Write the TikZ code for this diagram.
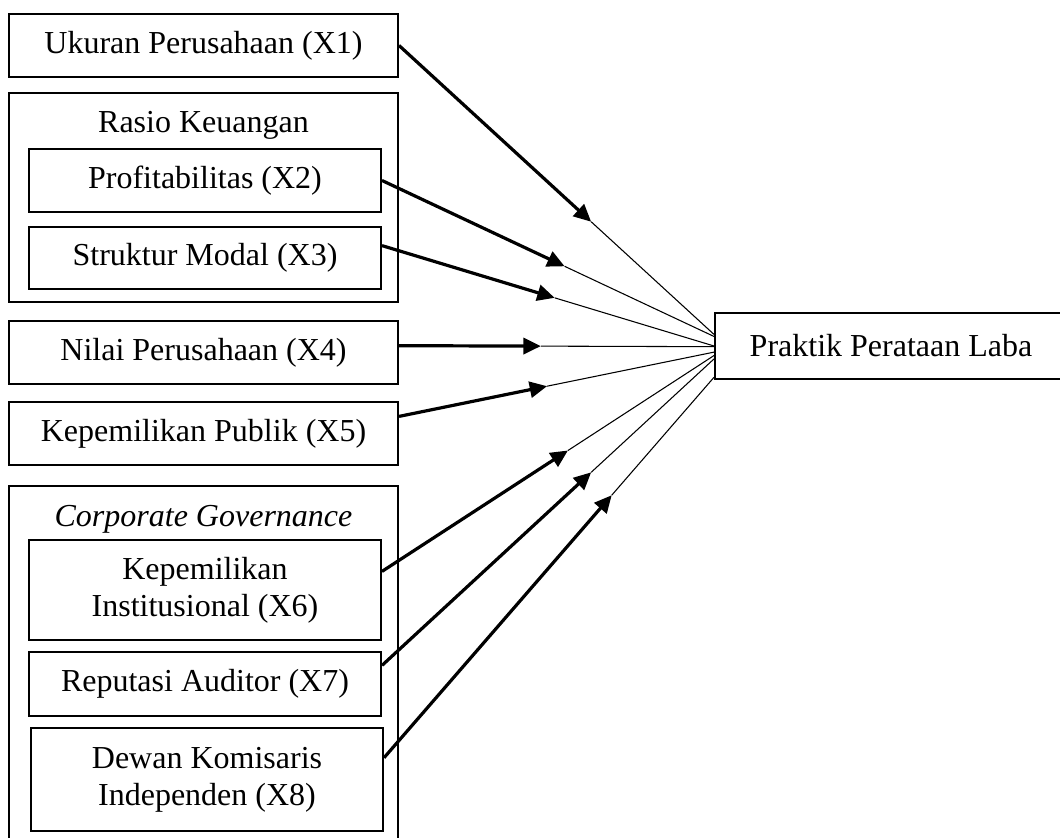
\documentclass[tikz,border=0pt]{standalone}
\usepackage{fontspec}
\setmainfont{Liberation Serif}
\usetikzlibrary{arrows.meta,calc}

\begin{document}
\begin{tikzpicture}[x=0.375pt,y=-0.375pt,
    varbox/.style={draw,line width=0.75pt,minimum width=132pt,minimum height=23.6pt,
        align=center,inner sep=2pt,font=\fontsize{12}{14}\selectfont},
    widebox/.style={varbox,minimum width=145.9pt},
    groupbox/.style={draw,line width=0.45pt,minimum width=145.9pt},
    grouptitle/.style={anchor=base,inner sep=0pt,font=\fontsize{12}{14}\selectfont},
    pull/.style={line width=1.2pt,-{Triangle[length=6.5pt,width=6pt]}},
    feed/.style={line width=0.4pt}]

    \useasboundingbox (0,0) rectangle (1060,837);
    \clip (0,0) rectangle (1060,837);

    % groups
    \node[groupbox,minimum height=78.4pt] (rasio) at (203.5,197.5) {};
    \node[grouptitle] (rasiotitle) at (203.5,133) {Rasio Keuangan};
    \node[groupbox,minimum height=136.5pt] (cg) at (203.5,668) {};
    \node[grouptitle] (cgtitle) at (203.5,526) {\itshape Corporate Governance};

    % variables
    \node[widebox] (x1) at (203.5,45.5) {Ukuran Perusahaan (X1)};
    \node[varbox] (x2) at (205,180.5) {Profitabilitas (X2)};
    \node[varbox,minimum height=23.3pt] (x3) at (205,258) {Struktur Modal (X3)};
    \node[widebox] (x4) at (203.5,352.5) {Nilai Perusahaan (X4)};
    \node[widebox] (x5) at (203.5,433.5) {Kepemilikan Publik (X5)};
    \node[varbox,minimum height=37.5pt] (x6) at (205,590) {Kepemilikan\\Institusional (X6)};
    \node[varbox,minimum height=24pt] (x7) at (205,684) {Reputasi Auditor (X7)};
    \node[varbox,minimum height=38.6pt] (x8) at (207,779.5) {Dewan Komisaris\\Independen (X8)};

    \node[varbox,minimum height=24.75pt] (laba) at (891,346) {Praktik Perataan Laba};

    % ends on the target
    \coordinate (t1) at ($(laba.north west)!0.33!(laba.south west)$);
    \coordinate (t2) at ($(laba.north west)!0.36!(laba.south west)$);
    \coordinate (t3) at ($(laba.north west)!0.50!(laba.south west)$);
    \coordinate (t4) at ($(laba.north west)!0.51!(laba.south west)$);
    \coordinate (t5) at ($(laba.north west)!0.59!(laba.south west)$);
    \coordinate (t6) at ($(laba.north west)!0.64!(laba.south west)$);
    \coordinate (t7) at ($(laba.north west)!0.69!(laba.south west)$);
    \coordinate (t8) at ($(laba.north west)!0.96!(laba.south west)$);

    % arrow heads
    \coordinate (m1) at ($(x1.east)!0.61!(t1)$);
    \coordinate (m2) at ($(x2.east)!0.55!(t2)$);
    \coordinate (m3) at ($(x3.4)!0.52!(t3)$);
    \coordinate (m4) at ($(x4.2)!0.45!(t4)$);
    \coordinate (m5) at ($(x5.5)!0.47!(t5)$);
    \coordinate (m6) at ($(x6.6)!0.56!(t6)$);
    \coordinate (m7) at ($(x7.6)!0.63!(t7)$);
    \coordinate (m8) at ($(x8.7)!0.69!(t8)$);

    \draw[pull] (x1.east) -- (m1);
    \draw[feed] (m1) -- (t1);
    \draw[pull] (x2.east) -- (m2);
    \draw[feed] (m2) -- (t2);
    \draw[pull] (x3.4) -- (m3);
    \draw[feed] (m3) -- (t3);
    \draw[pull] (x4.2) -- (m4);
    \draw[feed] (m4) -- (t4);
    \draw[pull] (x5.5) -- (m5);
    \draw[feed] (m5) -- (t5);
    \draw[pull] (x6.6) -- (m6);
    \draw[feed] (m6) -- (t6);
    \draw[pull] (x7.6) -- (m7);
    \draw[feed] (m7) -- (t7);
    \draw[pull] (x8.7) -- (m8);
    \draw[feed] (m8) -- (t8);

\end{tikzpicture}
\end{document}
